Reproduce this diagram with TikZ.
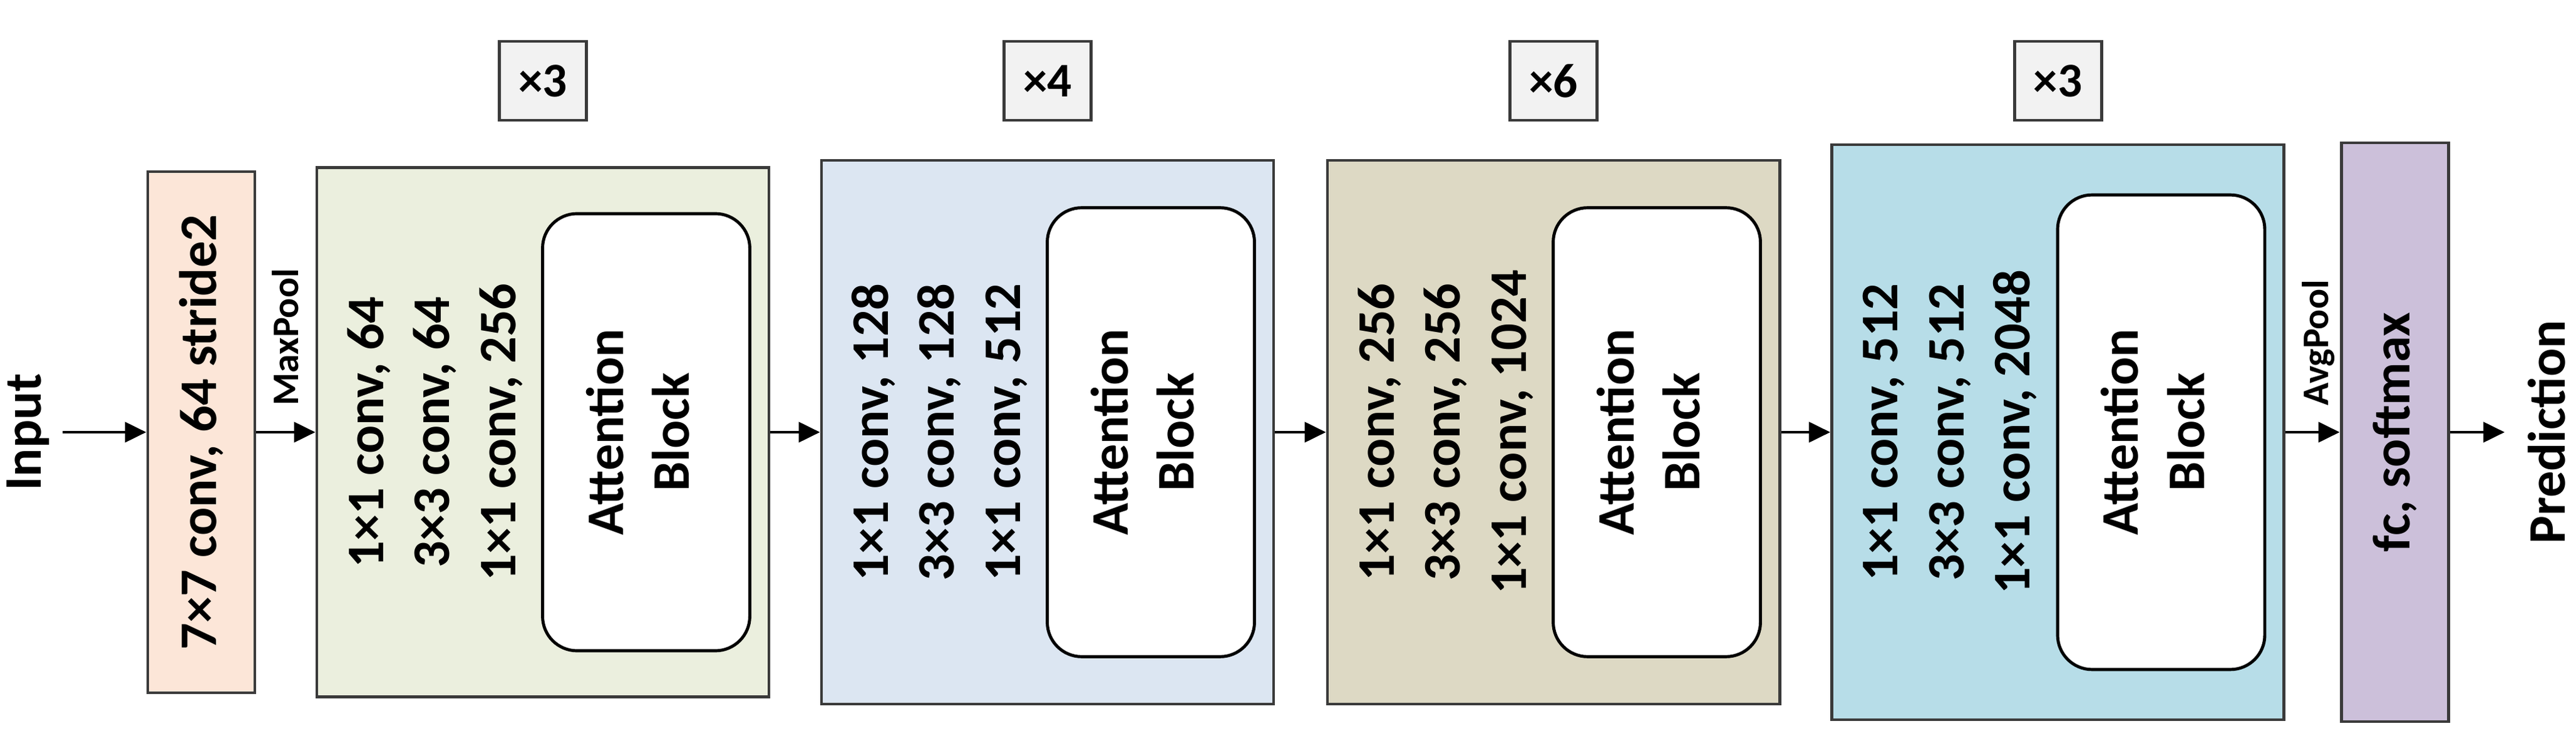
\documentclass[tikz,border=0pt]{standalone}
\usepackage{fontspec}
\setmainfont{Carlito}
\usetikzlibrary{arrows.meta}
\definecolor{edge}{HTML}{3A3A3A}
\definecolor{corange}{HTML}{FCE6D8}
\definecolor{cgreen}{HTML}{EBEFDE}
\definecolor{cblue}{HTML}{DCE6F2}
\definecolor{ctan}{HTML}{DDD9C4}
\definecolor{ccyan}{HTML}{B7DDE8}
\definecolor{cpurple}{HTML}{CCC0DA}
\definecolor{cgray}{HTML}{F2F2F2}
\tikzset{
  box/.style={draw=edge, line width=1.4pt, inner sep=0pt},
  lbl/.style={font=\fontsize{24}{30}\selectfont\bfseries, rotate=90, align=center},
  small/.style={font=\fontsize{17}{19}\selectfont\bfseries, rotate=90},
  rep/.style={box, fill=cgray, minimum width=1.39cm, minimum height=1.26cm, font=\fontsize{22}{24}\selectfont\bfseries},
  att/.style={draw=black, line width=1.4pt, fill=white, rounded corners=0.55cm},
  arr/.style={-{Triangle[length=0.34cm,width=0.32cm]}, line width=1.4pt}
}
\begin{document}
\begin{tikzpicture}
\useasboundingbox (0,0) rectangle (41.14,11.66);
\def\ym{4.76}
% input
\node[lbl] (in) at (0.45,\ym) {Input};
\node[box, fill=corange, minimum width=1.71cm, minimum height=8.32cm] (c1) at (3.215,\ym) {};
\node[lbl] at (c1) {7×7 conv, 64 stride2};
\draw[arr] (1.0,\ym) coordinate (ins) -- (c1.west);
% stages
\foreach \n/\cx/\h/\col/\r/\a/\b/\c in {
  s1/8.67/8.45/cgreen/×3/{1×1 conv, 64}/{3×3 conv, 64}/{1×1 conv, 256},
  s2/16.73/8.68/cblue/×4/{1×1 conv, 128}/{3×3 conv, 128}/{1×1 conv, 512},
  s3/24.81/8.68/ctan/×6/{1×1 conv, 256}/{3×3 conv, 256}/{1×1 conv, 1024},
  s4/32.865/9.18/ccyan/×3/{1×1 conv, 512}/{3×3 conv, 512}/{1×1 conv, 2048}}{
  \node[box, fill=\col, minimum width=7.22cm, minimum height=\h cm] (\n) at (\cx,\ym) {};
  \node[rep] (\n r) at (\cx,10.37) {\r};
  \node[lbl] (\n t) at ([xshift=1.91cm]\n.west) {\a\\\b\\\c};
  \draw[att] ([xshift=3.63cm,yshift=-0.09*\h cm]\n.north west) rectangle ([xshift=-0.33cm,yshift=0.09*\h cm]\n.south east);
  \node[lbl] (\n a) at ([xshift=5.15cm]\n.west) {Attention\\Block};
}
\node[box, fill=cpurple, minimum width=1.71cm, minimum height=9.24cm] (fc) at (38.245,\ym) {};
\node[lbl] at (fc) {fc, softmax};
\node[lbl] (pred) at (40.67,\ym) {Prediction};
\draw[arr] (c1.east) -- (s1.west);
\draw[arr] (s1.east) -- (s2.west);
\draw[arr] (s2.east) -- (s3.west);
\draw[arr] (s3.east) -- (s4.west);
\draw[arr] (s4.east) -- (fc.west);
\draw[arr] (fc.east) -- (40.0,\ym) coordinate (pe);
\node[small, anchor=west] (mp) at (4.56,\ym+0.3) {MaxPool};
\node[small, anchor=west] (ap) at (37.03,\ym+0.3) {AvgPool};
\end{tikzpicture}
\end{document}
